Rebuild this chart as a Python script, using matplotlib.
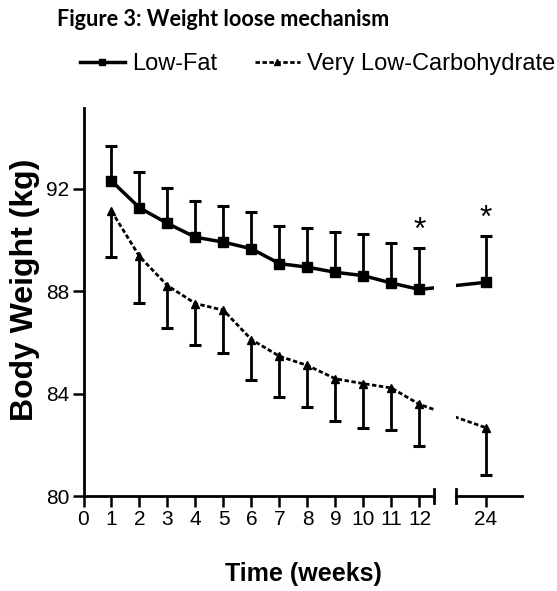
import numpy as np
import matplotlib
matplotlib.use("Agg")
import matplotlib.pyplot as plt
from matplotlib.lines import Line2D

# data (body weight, kg)
weeks = [1, 2, 3, 4, 5, 6, 7, 8, 9, 10, 11, 12, 24]
low_fat = [92.31, 91.26, 90.65, 90.11, 89.92, 89.66, 89.08, 88.94, 88.74, 88.61, 88.32, 88.07, 88.35]
low_fat_upper = [93.67, 92.66, 92.04, 91.52, 91.34, 91.08, 90.56, 90.46, 90.30, 90.23, 89.88, 89.68, 90.14]
vlc = [91.13, 89.36, 88.22, 87.52, 87.26, 86.11, 85.46, 85.10, 84.58, 84.39, 84.22, 83.58, 82.67]
vlc_lower = [89.33, 87.55, 86.55, 85.91, 85.59, 84.52, 83.87, 83.48, 82.93, 82.67, 82.59, 81.94, 80.84]
signif_weeks = [12, 24]
xticks_left = list(range(0, 13))
yticks = [80, 84, 88, 92]

plt.rcParams["font.family"] = ["Liberation Sans", "DejaVu Sans"]

# week 24 is drawn after an axis break, close to week 12
POS_24 = 14.37
pos = np.array([w if w <= 12 else POS_24 for w in weeks], dtype=float)
DOTS = (0, (1.6, 0.9))

W, H = 557, 591
fig = plt.figure(figsize=(W / 100, H / 100), dpi=100)
bottom = (H - 496) / H
height = (496 - 108) / H
ax1 = fig.add_axes([83.5 / W, bottom, (434 - 83.5) / W, height])
ax2 = fig.add_axes([455.7 / W, bottom, 66 / W, height])

for ax in (ax1, ax2):
    # one-sided error bars: up for low-fat, down for very low-carb
    ax.vlines(pos, low_fat, low_fat_upper, color="black", lw=2, zorder=2)
    ax.plot(pos, low_fat_upper, ls="none", marker="_", ms=8, mew=2.2, color="black")
    ax.vlines(pos, vlc_lower, vlc, color="black", lw=2, zorder=2)
    ax.plot(pos, vlc_lower, ls="none", marker="_", ms=8, mew=2.2, color="black")
    ax.plot(pos, low_fat, color="black", lw=2.5, marker="s", ms=7, zorder=3)
    ax.plot(pos, vlc, color="black", lw=2, ls=DOTS, marker="^", ms=6, zorder=3)
    for w in signif_weeks:
        i = weeks.index(w)
        ax.annotate("*", (pos[i], low_fat_upper[i]), xytext=(0, 2),
                    textcoords="offset points", ha="center", va="bottom",
                    fontsize=23)
    ax.set_ylim(80, 95.16)
    ax.spines["top"].set_visible(False)
    ax.spines["right"].set_visible(False)
    ax.spines["bottom"].set_linewidth(2)
    ax.spines["left"].set_linewidth(2)
    ax.tick_params(direction="out", length=8, width=1.8, labelsize=15, pad=2)

ax1.set_xlim(0, 12.52)
ax1.set_xticks(xticks_left)
ax1.set_yticks(yticks)
ax2.set_xlim(13.30, 15.65)
ax2.set_xticks([POS_24])
ax2.set_xticklabels(["24"])
ax2.spines["left"].set_visible(False)
ax2.tick_params(axis="y", left=False, labelleft=False)

# end marks at the break
ax1.plot([1, 1], [-0.018, 0.018], transform=ax1.transAxes, color="black", lw=2, clip_on=False)
ax2.plot([0, 0], [-0.018, 0.018], transform=ax2.transAxes, color="black", lw=2, clip_on=False)

ax1.set_ylabel("Body Weight (kg)", fontsize=23, fontweight="bold")
ax1.yaxis.set_label_coords(-0.124, 0.531)
fig.text(303 / W, 1 - 574 / H, "Time (weeks)", ha="center", va="center",
         fontsize=18, fontweight="bold")

handles = [
    Line2D([], [], color="black", lw=2.5, marker="s", ms=5),
    Line2D([], [], color="black", lw=2, ls=DOTS, marker="^", ms=5),
]
fig.legend(handles, ["Low-Fat", "Very Low-Carbohydrate"], ncol=2, frameon=False,
           loc="center left", bbox_to_anchor=(80 / W, 1 - 64 / H),
           fontsize=17, handlelength=1.9, handletextpad=0.3,
           columnspacing=1.6, borderpad=0, borderaxespad=0, numpoints=1)

fig.text(57 / W, 1 - 19 / H, "Figure 3: Weight loose mechanism", ha="left", va="center",
         fontsize=15.6, fontweight="bold", family=["Lato", "DejaVu Sans"])

fig.savefig("out.png", dpi=100)
